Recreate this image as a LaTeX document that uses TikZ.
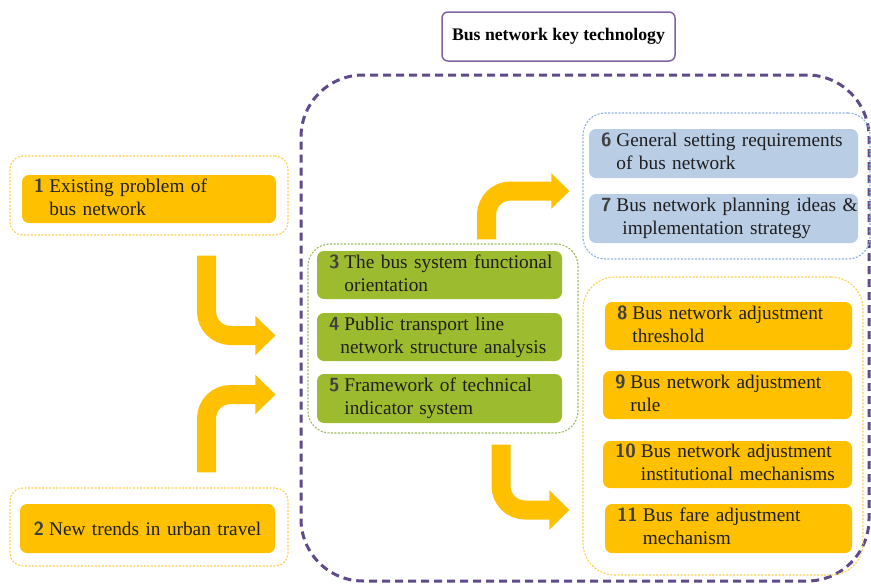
\documentclass[tikz,border=0pt]{standalone}
\usepackage{fontspec}
\setmainfont{Liberation Serif}
\usetikzlibrary{arrows.meta,calc}

\definecolor{amber}{HTML}{FFC000}
\definecolor{amberline}{HTML}{FFCF4A}
\definecolor{leaf}{HTML}{9DBB2E}
\definecolor{leafline}{HTML}{9BBB59}
\definecolor{sky}{HTML}{B9CDE5}
\definecolor{skyline}{HTML}{8DB3E2}
\definecolor{corepurple}{HTML}{5F4B8B}
\definecolor{titlepurple}{HTML}{8064A2}
\definecolor{numgray}{HTML}{404040}
\definecolor{ink}{HTML}{1E1E1E}

% item number in bold sans, followed by a two-line label with hanging indent
\newcommand\itemno[1]{{\sffamily\bfseries\fontsize{19}{23}\selectfont\color{numgray}#1}}
\newcommand\twoline[3]{\begin{tabular}{@{}l@{\hspace{5pt}}l@{}}\itemno{#1} & #2\\ & #3\end{tabular}}

\tikzset{
  grp/.style={draw, rounded corners=#1, dash pattern=on 2pt off 1.5pt, line width=1.1pt, inner sep=0pt},
  itembox/.style={rounded corners=7pt, inner xsep=12pt, inner ysep=0pt, align=left,
    text=ink, font=\fontsize{19.3}{23}\selectfont},
  amberbox/.style={itembox, fill=amber},
  leafbox/.style={itembox, fill=leaf},
  skybox/.style={itembox, fill=sky},
  flow/.style={draw=amber, line width=19pt, rounded corners=24pt,
    -{Triangle[width=38pt,length=20pt]}},
}

\begin{document}
\begin{tikzpicture}[x=1pt,y=-1pt]
\useasboundingbox (0,0) rectangle (871,584);

% title
\node[draw=titlepurple, line width=1.5pt, rounded corners=6pt, minimum width=233pt,
  minimum height=49pt, inner sep=0pt, font=\bfseries\fontsize{17.7}{21}\selectfont]
  (title) at (558.5,36.5) {Bus network key technology};

% dashed frame of the key technology block
\node[draw=corepurple, line width=3pt, dash pattern=on 8pt off 5pt, rounded corners=62pt,
  minimum width=568pt, minimum height=506pt, inner sep=0pt] (core) at (585,328) {};

% group frames
\node[grp=13pt, draw=amberline, minimum width=278pt, minimum height=79pt] (g1) at (149,195.5) {};
\node[grp=13pt, draw=amberline, minimum width=278pt, minimum height=78pt] (g2) at (149,527) {};
\node[grp=22pt, draw=leafline, minimum width=270pt, minimum height=189pt] (g3) at (443,338.5) {};
\node[grp=22pt, draw=skyline, minimum width=287pt, minimum height=146pt] (g4) at (726.5,186) {};
\node[grp=32pt, draw=amberline, minimum width=280pt, minimum height=298pt] (g5) at (723,426) {};

% inputs
\node[amberbox, minimum width=254pt, minimum height=48pt, text width=230pt] (b1) at (149,199)
  {\twoline{1}{Existing problem of}{bus network}};
\node[amberbox, minimum width=255pt, minimum height=49pt, text width=231pt, align=center] (b2) at (147.5,528.5)
  {\itemno{2}\hspace{5pt}New trends in urban travel};

% core analysis
\node[leafbox, minimum width=245pt, minimum height=48pt, text width=221pt] (b3) at (439.5,275)
  {\twoline{3}{The bus system functional}{orientation}};
\node[leafbox, minimum width=245pt, minimum height=48pt, text width=221pt] (b4) at (439.5,337)
  {\twoline{4}{Public transport line}{\hspace{-4pt}network structure analysis}};
\node[leafbox, minimum width=245pt, minimum height=49pt, text width=221pt] (b5) at (439.5,398.5)
  {\twoline{5}{Framework of technical}{indicator system}};

% planning
\node[skybox, minimum width=269pt, minimum height=49pt, text width=245pt] (b6) at (723.5,153.5)
  {\twoline{6}{General setting requirements}{of bus network}};
\node[skybox, minimum width=269pt, minimum height=49pt, text width=245pt] (b7) at (723.5,218.5)
  {\twoline{7}{Bus network planning ideas \&}{\hspace{6pt}implementation strategy}};

% adjustment
\node[amberbox, minimum width=247pt, minimum height=48pt, text width=223pt] (b8) at (728.5,326)
  {\twoline{8}{Bus network adjustment}{threshold}};
\node[amberbox, minimum width=249pt, minimum height=48pt, text width=225pt] (b9) at (727.5,395)
  {\twoline{9}{Bus network adjustment}{rule}};
\node[amberbox, minimum width=249pt, minimum height=47pt, text width=225pt] (b10) at (727.5,464.5)
  {\twoline{10}{Bus network adjustment}{institutional mechanisms}};
\node[amberbox, minimum width=247pt, minimum height=49pt, text width=223pt] (b11) at (728.5,528.5)
  {\twoline{11}{Bus fare adjustment}{mechanism}};

% flow arrows between the groups
\coordinate (a1s) at ($(g1.south)+(57.5,20)$);
\coordinate (a1e) at ($(g3.west)+(-32,-3)$);
\coordinate (a2s) at ($(g2.north)+(57.5,-15)$);
\coordinate (a2e) at ($(g3.west)+(-32,56)$);
\coordinate (a3s) at ($(g3.north)+(43.5,-4)$);
\coordinate (a3e) at ($(g4.west)+(-13,5)$);
\coordinate (a4s) at ($(g3.south)+(58,11)$);
\coordinate (a4e) at ($(g5.west)+(-13,84)$);

\draw[flow] (a1s) |- (a1e);
\draw[flow] (a2s) |- (a2e);
\draw[flow, -{Triangle[width=34pt,length=18pt]}] (a3s) |- (a3e);
\draw[flow] (a4s) |- (a4e);
\end{tikzpicture}
\end{document}
